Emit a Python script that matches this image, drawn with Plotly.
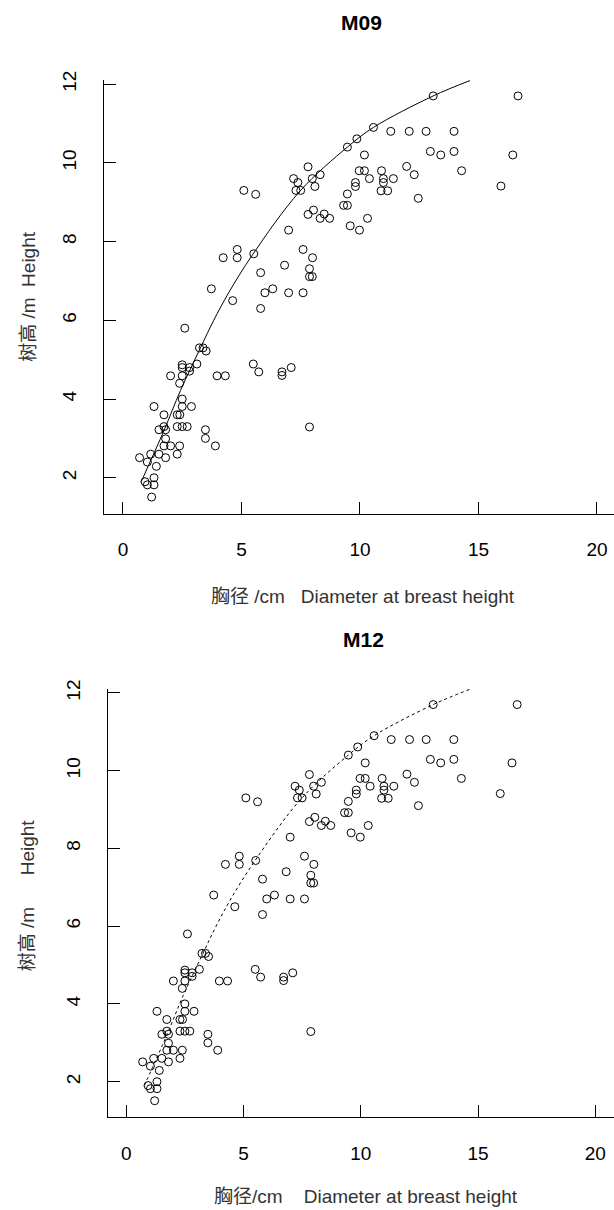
import plotly.graph_objects as go

# ---- data (same sample in both panels) ----
dbh = [7.81, 8.32, 7.20, 7.38, 7.99, 8.10, 7.30, 7.50, 5.10, 5.60,
       7.81, 8.04, 8.32, 8.49, 8.72, 6.99, 4.82, 4.23, 4.82, 5.52,
       7.60, 8.00, 6.82, 7.87, 7.87, 7.99, 5.81, 3.73, 6.32, 5.99,
       6.99, 7.60, 4.63, 5.81,
       2.61, 3.23, 3.38, 3.51, 2.50, 2.50, 2.81, 3.12, 2.81, 2.50,
       2.01, 2.39, 3.97, 4.32, 5.50, 5.73, 6.71, 6.71, 7.10, 7.87,
       2.50, 1.31, 2.50, 2.89, 1.73, 2.29, 2.40, 1.73, 2.29, 2.50,
       2.71, 1.52, 1.80, 3.48, 1.80, 3.48, 3.90, 1.73, 2.01, 2.39,
       2.29, 0.70, 1.17, 1.52, 1.80, 1.03, 1.41, 1.31, 0.93, 1.03,
       1.31, 1.21,
       13.09, 16.67, 10.57, 11.30, 12.08, 12.79, 13.97, 9.87, 9.47, 10.19,
       12.97, 13.41, 13.97, 16.45, 9.97, 10.19, 10.91, 11.97, 12.29, 14.29,
       10.40, 9.81, 9.81, 10.99, 10.99, 11.41, 10.89, 11.17, 9.47, 9.31,
       9.47, 12.46, 15.95, 9.59, 9.98, 10.32]
tree_height = [9.90, 9.70, 9.60, 9.50, 9.60, 9.40, 9.30, 9.30, 9.30, 9.20,
               8.69, 8.80, 8.59, 8.70, 8.59, 8.29, 7.80, 7.59, 7.59, 7.69,
               7.80, 7.59, 7.40, 7.31, 7.11, 7.11, 7.21, 6.80, 6.80, 6.70,
               6.70, 6.70, 6.50, 6.30,
               5.80, 5.30, 5.30, 5.22, 4.87, 4.80, 4.80, 4.89, 4.71, 4.59,
               4.59, 4.40, 4.59, 4.59, 4.89, 4.69, 4.69, 4.60, 4.80, 3.29,
               4.00, 3.81, 3.81, 3.81, 3.60, 3.60, 3.60, 3.30, 3.30, 3.30,
               3.30, 3.22, 3.22, 3.22, 2.99, 3.00, 2.81, 2.81, 2.81, 2.81,
               2.60, 2.51, 2.60, 2.60, 2.51, 2.40, 2.29, 2.00, 1.90, 1.82,
               1.82, 1.51,
               11.70, 11.70, 10.90, 10.80, 10.80, 10.80, 10.80, 10.61, 10.40, 10.20,
               10.29, 10.20, 10.29, 10.20, 9.80, 9.80, 9.80, 9.91, 9.70, 9.80,
               9.60, 9.50, 9.40, 9.60, 9.50, 9.60, 9.29, 9.29, 9.21, 8.92,
               8.92, 9.10, 9.41, 8.40, 8.29, 8.59]

# fitted curve, read along its drawn path
curve_dbh = [0.77, 1.73, 2.43, 3.27, 3.83, 4.46, 5.45, 7.48, 9.47, 10.57, 13.09, 14.64]
curve_height = [1.90, 3.20, 4.22, 5.30, 6.00, 6.70, 7.65, 9.29, 10.40, 10.90, 11.70, 12.09]

x_ticks = [0, 5, 10, 15, 20]
y_ticks = [2, 4, 6, 8, 10, 12]

panel_titles = ["M09", "M12"]
x_titles = ["胸径 /cm\u00a0\u00a0 Diameter at breast height",
            "胸径/cm\u00a0\u00a0\u00a0 Diameter at breast height"]
y_titles = ["树高 /m\u00a0\u00a0Height",
            "树高 /m\u00a0\u00a0\u00a0\u00a0\u00a0\u00a0Height"]

W, H = 614, 1210
FONT = "Liberation Sans, Arial, Noto Sans CJK SC, sans-serif"


def fx(px):
    return px / W


def fy(py):
    return 1 - py / H


fig = go.Figure()
for xa, ya, dash in [("x", "y", "solid"), ("x2", "y2", "dot")]:
    fig.add_trace(go.Scatter(x=curve_dbh, y=curve_height, mode="lines",
                             line=dict(color="black", width=1, dash=dash, shape="spline", smoothing=1.0),
                             xaxis=xa, yaxis=ya, showlegend=False, hoverinfo="skip"))
    fig.add_trace(go.Scatter(x=dbh, y=tree_height, mode="markers",
                             marker=dict(symbol="circle-open", size=8, color="black", line=dict(width=1, color="black")),
                             xaxis=xa, yaxis=ya, showlegend=False))

axis_common = dict(showgrid=False, zeroline=False, showline=True, linecolor="black", linewidth=1,
                   ticks="inside", ticklen=12, tickcolor="black", tickwidth=1,
                   tickfont=dict(family=FONT, size=19, color="black"), fixedrange=True)

fig.update_layout(
    width=W, height=H, margin=dict(l=0, r=0, t=0, b=0),
    paper_bgcolor="white", plot_bgcolor="white",
    xaxis=dict(domain=[fx(104), 1], range=[-0.8, 20.72], tickvals=x_ticks, anchor="y",
               ticklabelstandoff=19, **axis_common),
    yaxis=dict(domain=[fy(508.3), fy(71.4)], range=[1.092, 12.108], tickvals=y_ticks, anchor="x",
               tickangle=-90, ticklabelstandoff=19, **axis_common),
    xaxis2=dict(domain=[fx(107.5), 1], range=[-0.8, 20.8], tickvals=x_ticks, anchor="y2",
                ticklabelstandoff=19, **axis_common),
    yaxis2=dict(domain=[fy(1116.3), fy(684.8)], range=[1.092, 12.108], tickvals=y_ticks, anchor="x2",
                tickangle=-90, ticklabelstandoff=19, **axis_common),
)

ann = []
for title, (tx, ty) in zip(panel_titles, [(361, 14), (363, 635)]):
    ann.append(dict(text="<b>" + title + "</b>", x=fx(tx), y=fy(ty), xref="paper", yref="paper",
                    showarrow=False, xanchor="center", yanchor="middle",
                    font=dict(family=FONT, size=21, color="black")))
for t, (tx, ty) in zip(x_titles, [(363, 592), (366, 1196)]):
    ann.append(dict(text=t, x=fx(tx), y=fy(ty), xref="paper", yref="paper", showarrow=False,
                    xanchor="center", yanchor="middle", font=dict(family=FONT, size=19, color="#333")))
for t, (tx, ty) in zip(y_titles, [(29, 290), (27, 893)]):
    ann.append(dict(text=t, x=fx(tx), y=fy(ty), xref="paper", yref="paper", showarrow=False,
                    textangle=-90, xanchor="center", yanchor="middle",
                    font=dict(family=FONT, size=19, color="#333")))
fig.update_layout(annotations=ann)

fig.write_html("out.html", config={"displayModeBar": False})

# remove the browser's default page margin so the figure sits at the window's corner
with open("out.html", "r", encoding="utf-8") as f:
    html = f.read()
html = html.replace("<body>", '<body style="margin:0;padding:0;overflow:hidden">', 1)
with open("out.html", "w", encoding="utf-8") as f:
    f.write(html)
